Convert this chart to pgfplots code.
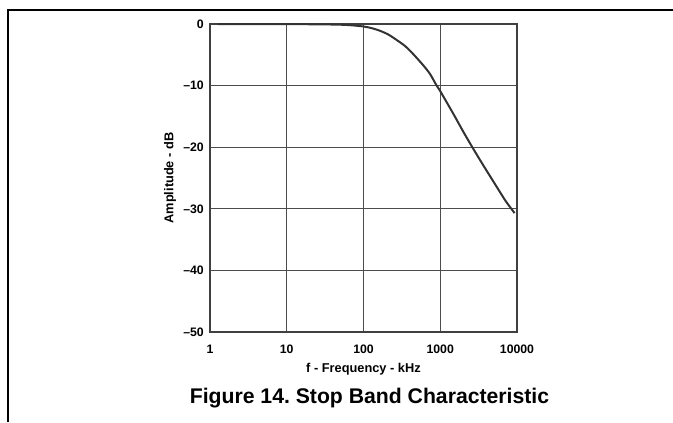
\documentclass[border=0pt]{standalone}
\usepackage{pgfplots}
\pgfplotsset{compat=1.18}
\usepackage{fontspec}
\setmainfont{Liberation Sans}
\frenchspacing
\begin{document}
\begin{tikzpicture}
\useasboundingbox (0pt,0pt) rectangle (504.75pt,316.5pt);
\draw[line width=0.8pt] (6pt,0pt) -- (6pt,309pt) -- (504.75pt,309pt);
\begin{axis}[
  at={(157.5pt,67.5pt)}, anchor=south west,
  scale only axis, width=230.25pt, height=231pt,
  xmode=log, xmin=1, xmax=10000, ymin=-50, ymax=0,
  xtick={1,10,100,1000,10000},
  xticklabels={1,10,100,1000,10000},
  minor xtick={}, minor ytick={},
  ytick={-50,-40,-30,-20,-10,0},
  yticklabels={--50,--40,--30,--20,--10,0},
  major tick length=0pt, minor tick length=0pt,
  grid=major,
  major grid style={black!70, line width=0.8pt},
  axis line style={black!75, line width=0.9pt},
  tick label style={font=\fontsize{9.2}{10}\selectfont\bfseries, inner sep=0pt},
  xticklabel style={anchor=center, yshift=-12.75pt},
  yticklabel style={anchor=east, xshift=-4.5pt},
  xlabel={f - Frequency - kHz},
  ylabel={Amplitude - dB},
  label style={font=\fontsize{9.6}{11}\selectfont\bfseries},
  xlabel style={at={(axis description cs:0.5,0)}, anchor=center, yshift=-27.75pt},
  ylabel style={at={(axis description cs:-0.1303,0.5)}, anchor=center},
  clip=false,
]
\addplot[black!80, line width=1.5pt, smooth, tension=0.4] coordinates {
(1.27,0) (3,-0.01) (10,-0.02) (30,-0.06) (60,-0.15) (100,-0.4) (130,-0.7)
(164,-1.1) (210,-1.7) (271,-2.6) (350,-3.6) (446,-4.9) (600,-6.7) (735,-8.1)
(898,-10.0) (1000,-10.9) (1500,-14.7) (2000,-17.5) (2617,-20.0) (3500,-22.6)
(5000,-25.7) (7000,-28.6) (8450,-30.0) (9300,-30.7)
};
\end{axis}
\node[anchor=base, font=\fontsize{15.9}{18}\selectfont\bfseries] at (277.1pt,14.25pt) {Figure 14. Stop Band Characteristic};
\end{tikzpicture}
\end{document}
